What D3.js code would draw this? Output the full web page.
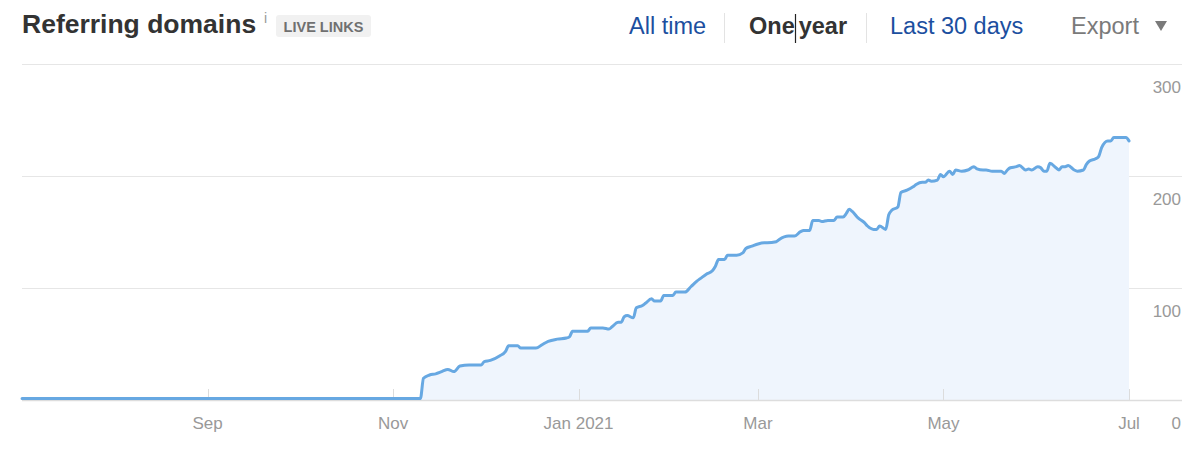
<!DOCTYPE html>
<html>
<head>
<meta charset="utf-8">
<script src="https://cdn.jsdelivr.net/npm/d3@7"></script>
<style>
  html, body { margin: 0; padding: 0; background: #fff; }
  svg { display: block; font-family: "Liberation Sans", Arial, Helvetica, sans-serif; }
</style>
</head>
<body>
<svg id="chart" width="1200" height="455"></svg>
<script>
// ---------------- data ----------------
const dates = [
  "2020-07-02", "2020-11-10",
  "2020-11-11", "2020-11-13", "2020-11-15", "2020-11-17", "2020-11-19", "2020-11-21", "2020-11-23", "2020-11-26", "2020-11-30",
  "2020-12-01", "2020-12-03", "2020-12-06", "2020-12-08", "2020-12-09", "2020-12-12", "2020-12-13", "2020-12-18", "2020-12-20", "2020-12-22", "2020-12-25", "2020-12-28", "2020-12-29", "2020-12-30",
  "2021-01-01", "2021-01-04", "2021-01-05", "2021-01-09", "2021-01-11", "2021-01-12", "2021-01-14", "2021-01-15", "2021-01-16", "2021-01-17", "2021-01-19", "2021-01-20", "2021-01-22", "2021-01-23", "2021-01-25", "2021-01-26", "2021-01-28", "2021-01-29",
  "2021-02-01", "2021-02-02", "2021-02-05", "2021-02-07", "2021-02-09", "2021-02-10", "2021-02-12", "2021-02-14", "2021-02-15", "2021-02-16", "2021-02-18", "2021-02-19", "2021-02-22", "2021-02-24", "2021-02-25", "2021-02-27",
  "2021-03-01", "2021-03-03", "2021-03-04", "2021-03-07", "2021-03-08", "2021-03-11", "2021-03-13", "2021-03-15", "2021-03-16", "2021-03-18", "2021-03-19", "2021-03-21", "2021-03-22", "2021-03-24", "2021-03-26", "2021-03-27", "2021-03-29", "2021-03-30", "2021-03-31",
  "2021-04-01", "2021-04-03", "2021-04-05", "2021-04-06", "2021-04-08", "2021-04-09", "2021-04-10", "2021-04-12", "2021-04-13", "2021-04-14", "2021-04-16", "2021-04-17", "2021-04-19", "2021-04-21", "2021-04-22", "2021-04-24", "2021-04-25", "2021-04-26", "2021-04-27", "2021-04-29", "2021-04-30",
  "2021-05-01", "2021-05-03", "2021-05-04", "2021-05-05", "2021-05-07", "2021-05-09", "2021-05-11", "2021-05-12", "2021-05-14", "2021-05-15", "2021-05-17", "2021-05-20", "2021-05-21", "2021-05-22", "2021-05-23", "2021-05-25", "2021-05-26", "2021-05-28", "2021-05-29", "2021-05-30",
  "2021-06-01", "2021-06-02", "2021-06-03", "2021-06-04", "2021-06-05", "2021-06-07", "2021-06-08", "2021-06-09", "2021-06-10", "2021-06-11", "2021-06-13", "2021-06-14", "2021-06-16", "2021-06-17", "2021-06-18", "2021-06-20", "2021-06-21", "2021-06-22", "2021-06-24", "2021-06-25", "2021-06-26", "2021-06-30",
  "2021-07-01"
];
const values = [
  0, 0,
  18, 21, 22, 24, 26, 24, 29, 30, 30,
  33, 34, 38, 42, 47, 47, 45, 45, 48, 51, 53, 54, 55, 60,
  60, 60, 63, 63, 62, 64, 68, 68, 73, 74, 72, 81, 83, 85, 89, 87, 87, 92,
  92, 95, 95, 100, 105, 107, 111, 114, 118, 124, 124, 128, 128, 130, 134, 136,
  138, 139, 139, 140, 142, 145, 145, 149, 150, 150, 159, 159, 158, 159, 159, 162, 162, 165, 169,
  167, 161, 157, 154, 151, 151, 154, 151, 164, 168, 171, 184, 186, 189, 191, 193, 193, 195, 194, 195, 200,
  198, 203, 200, 204, 203, 204, 207, 205, 204, 204, 203, 203, 201, 204, 206, 207, 208, 204, 205, 204,
  207, 206, 203, 203, 210, 206, 204, 207, 207, 208, 204, 203, 204, 209, 212, 214, 216, 224, 230, 230, 233, 233,
  230
];
const yTicks = [0, 100, 200, 300];
const xTickDates = ["2020-09-01", "2020-11-01", "2021-01-01", "2021-03-01", "2021-05-01", "2021-07-01"];
const xTickLabels = ["Sep", "Nov", "Jan 2021", "Mar", "May", "Jul"];
const periodOptions = ["All time", "One year", "Last 30 days"];

// ---------------- chart ----------------
const parse = d3.timeParse("%Y-%m-%d");
const data = dates.map((d, i) => ({ date: parse(d), value: values[i] }));

const svg = d3.select("#chart");
const gridLeft = 22, gridRight = 1182;

const x = d3.scaleTime()
  .domain([parse("2020-07-01"), parse("2021-07-01")])
  .range([19, 1129]);
const y = d3.scaleLinear().domain([0, 300]).range([400, 64]);

// gridlines
svg.append("g").selectAll("line").data(yTicks.filter(t => t > 0)).join("line")
  .attr("x1", gridLeft).attr("x2", gridRight)
  .attr("y1", d => Math.round(y(d)) + 0.5).attr("y2", d => Math.round(y(d)) + 0.5)
  .attr("stroke", "#e6e6e6").attr("stroke-width", 1);

// area + line
const area = d3.area().x(d => x(d.date)).y0(y(0)).y1(d => y(d.value) - 1).curve(d3.curveMonotoneX);
const line = d3.line().x(d => x(d.date)).y(d => y(d.value) - 1.5).curve(d3.curveMonotoneX);

svg.append("path").datum(data).attr("d", area).attr("fill", "#eff5fd");

// x axis ticks (vertical small ticks)
svg.append("g").selectAll("line").data(xTickDates).join("line")
  .attr("x1", d => Math.round(x(parse(d))) + 0.5).attr("x2", d => Math.round(x(parse(d))) + 0.5)
  .attr("y1", 389).attr("y2", 400)
  .attr("stroke", "#dcdcdc").attr("stroke-width", 1);

// baseline axis line
svg.append("line").attr("x1", gridLeft).attr("x2", gridRight)
  .attr("y1", y(0) + 0.5).attr("y2", y(0) + 0.5)
  .attr("stroke", "#dddddd").attr("stroke-width", 1.5);

svg.append("path").datum(data).attr("d", line)
  .attr("fill", "none").attr("stroke", "#67a8e2").attr("stroke-width", 3)
  .attr("stroke-linejoin", "round").attr("stroke-linecap", "round");

// x labels
svg.append("g").selectAll("text").data(xTickDates).join("text")
  .attr("x", d => x(parse(d))).attr("y", 423)
  .attr("text-anchor", "middle").attr("dominant-baseline", "central")
  .attr("fill", "#999").attr("font-size", 17)
  .text((d, i) => xTickLabels[i]);

// y labels
svg.append("g").selectAll("text").data(yTicks).join("text")
  .attr("x", 1181).attr("y", d => y(d) + 23)
  .attr("text-anchor", "end").attr("dominant-baseline", "central")
  .attr("fill", "#999").attr("font-size", 17)
  .text(d => d);

// ---------------- header ----------------
svg.append("text").attr("x", 22).attr("y", 33)
  .attr("font-size", 26.5).attr("font-weight", "bold").attr("fill", "#333")
  .text("Referring domains");
svg.append("text").attr("x", 264).attr("y", 23)
  .attr("font-size", 14).attr("fill", "#999").text("i");
svg.append("rect").attr("x", 276).attr("y", 15).attr("width", 95).attr("height", 22)
  .attr("rx", 3).attr("fill", "#f1f1f1");
svg.append("text").attr("x", 323.5).attr("y", 31.5).attr("text-anchor", "middle")
  .attr("font-size", 14.5).attr("font-weight", "bold").attr("fill", "#707070")
  .text("LIVE LINKS");

const hdrY = 34;
const hdrSize = 23.5;
svg.append("text").attr("x", 629).attr("y", hdrY).attr("font-size", hdrSize).attr("fill", "#1c4f9f").text(periodOptions[0]);
svg.append("line").attr("x1", 724.5).attr("x2", 724.5).attr("y1", 13).attr("y2", 43).attr("stroke", "#e3e3e3");
const oneYear = svg.append("text").attr("x", 749).attr("y", hdrY).attr("font-size", hdrSize)
  .attr("font-weight", "bold").attr("fill", "#333");
oneYear.append("tspan").text("One");
oneYear.append("tspan").attr("dx", 4).text("year");
svg.append("line").attr("x1", 795.5).attr("x2", 795.5).attr("y1", 14).attr("y2", 43).attr("stroke", "#222").attr("stroke-width", 1.2);
svg.append("line").attr("x1", 866.5).attr("x2", 866.5).attr("y1", 13).attr("y2", 43).attr("stroke", "#e3e3e3");
svg.append("text").attr("x", 890).attr("y", hdrY).attr("font-size", hdrSize).attr("fill", "#1c4f9f").text(periodOptions[2]);
svg.append("text").attr("x", 1071).attr("y", hdrY).attr("font-size", hdrSize).attr("fill", "#7a7a7a").text("Export");
svg.append("path").attr("d", "M1155,21 L1167,21 L1161,31 Z").attr("fill", "#7a7a7a");
</script>
</body>
</html>
